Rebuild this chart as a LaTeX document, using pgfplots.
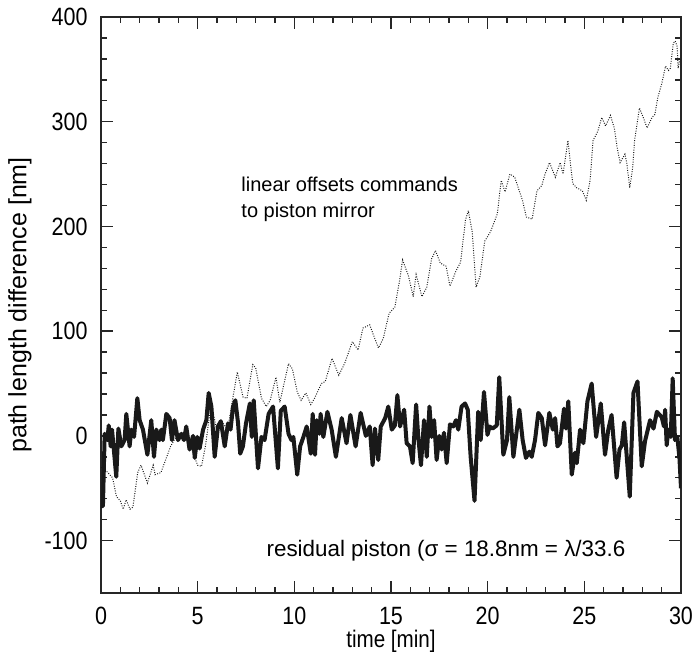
\documentclass[border=0pt]{standalone}
\usepackage{pgfplots}
\pgfplotsset{compat=1.18}
\usepackage{fontspec}
\setmainfont{Liberation Sans}
\newfontfamily\narrowfont{Liberation Sans}[FakeStretch=0.86]

% commanded offsets (dotted) and residual piston (thick)
\pgfplotstableread{
x y
0.0 -30
0.2 -32
0.4 -36
0.6 -40
0.8 -58
1.0 -62
1.15 -70
1.3 -61
1.5 -70
1.65 -68
1.9 -35
2.07 -28
2.4 -45
2.7 -28
2.8 -37
3.1 -35
3.6 -10
4.0 3
4.5 -4
5.0 -28
5.2 -29
5.4 -10
5.7 31
5.95 9
6.2 15
6.55 6
6.8 34
7.05 61
7.35 37
7.55 36
7.85 68
8.0 65
8.3 36
8.55 28
8.75 34
9.05 56
9.25 32
9.7 69
9.9 64
10.15 42
10.35 34
10.6 41
10.85 30
11.05 36
11.4 50
11.6 52
11.95 74
12.3 58
12.6 69
13.0 90
13.3 82
13.55 103
13.9 106
14.1 96
14.35 84
14.6 93
14.9 117
15.2 123
15.45 149
15.6 168
15.9 153
16.15 133
16.3 154
16.6 133
16.85 142
17.1 169
17.3 177
17.55 165
17.85 162
18.05 143
18.35 157
18.6 166
18.85 206
19.0 215
19.2 195
19.4 142
19.6 152
19.85 186
20.15 195
20.5 212
20.7 244
20.9 233
21.15 250
21.4 247
21.8 225
22.0 209
22.3 207
22.55 234
22.8 239
22.95 249
23.2 261
23.5 247
23.75 261
23.9 250
24.15 282
24.4 241
24.6 237
24.9 234
25.1 225
25.3 244
25.45 282
25.7 291
25.9 304
26.1 296
26.35 306
26.55 294
26.7 275
26.85 261
27.1 269
27.2 260
27.35 237
27.5 256
27.6 282
27.85 313
28.05 304
28.25 294
28.5 304
28.65 307
28.8 323
29.0 336
29.2 353
29.35 349
29.45 351
29.6 375
29.7 377
29.8 372
29.85 351
29.95 360
}\offsets

\pgfplotstableread{
x y
0.0 -67
0.1 -67
0.19 2
0.33 -4
0.4 10
0.5 -10
0.57 6
0.79 -39
0.9 7
1.05 -10
1.22 -4
1.31 21
1.48 -10
1.57 6
1.71 -1
1.88 36
2.0 15
2.17 6
2.4 -18
2.6 15
2.74 -20
2.86 6
3.03 -4
3.12 6
3.2 -4
3.38 21
3.55 17
3.67 -4
3.8 15
3.98 -4
4.16 2
4.29 -4
4.41 9
4.58 -13
4.76 0
4.85 -21
4.98 -1
5.1 -12
5.28 6
5.45 15
5.57 41
5.71 28
5.88 -20
6.05 9
6.2 14
6.4 -10
6.57 12
6.7 6
6.83 28
6.95 34
7.09 12
7.2 -17
7.34 -10
7.5 12
7.7 31
7.8 -1
7.9 34
8.12 -31
8.3 -1
8.46 -4
8.67 21
8.9 28
8.98 9
9.15 -31
9.3 24
9.5 28
9.7 2
9.85 -4
9.95 -1
10.15 -37
10.3 -10
10.47 -1
10.64 9
10.85 -17
10.95 21
11.07 -18
11.16 15
11.3 2
11.36 21
11.5 -1
11.71 23
11.93 6
12.15 -20
12.45 17
12.7 -7
12.9 20
13.17 -10
13.43 22
13.7 0
13.9 9
14.05 -28
14.17 7
14.34 -23
14.47 9
14.7 17
14.86 28
15.04 6
15.2 10
15.33 39
15.47 9
15.68 25
15.81 -7
15.98 -10
16.12 -26
16.3 30
16.41 -1
16.55 -28
16.71 15
16.85 -20
16.99 28
17.1 -1
17.23 15
17.36 -23
17.5 0
17.62 -13
17.74 3
17.88 -26
18.05 11
18.22 9
18.36 15
18.48 6
18.65 28
18.83 31
18.97 25
19.12 -20
19.32 -62
19.51 23
19.64 -4
19.81 42
19.99 1
20.1 9
20.25 7
20.47 10
20.6 56
20.81 -18
21.0 -4
21.12 37
21.33 -20
21.64 25
21.81 -4
21.98 -21
22.16 -15
22.28 -20
22.45 -4
22.62 22
22.8 17
22.97 -9
23.19 22
23.37 6
23.49 17
23.61 -10
23.74 -7
23.95 26
24.05 7
24.17 33
24.35 -37
24.52 -16
24.61 -26
24.78 6
24.95 -7
25.16 33
25.38 50
25.61 -1
25.85 31
26.07 -18
26.24 6
26.41 20
26.67 -40
26.82 -13
26.94 -9
27.06 13
27.35 -58
27.54 41
27.75 52
27.97 -29
28.14 -5
28.4 15
28.58 7
28.75 23
29.0 18
29.12 9
29.18 25
29.26 -9
29.35 6
29.47 -1
29.57 55
29.69 -4
29.81 -1
29.92 -21
30.0 -50
}\residual

\begin{document}
\begin{tikzpicture}
\path[use as bounding box] (-50.5pt,-32pt) rectangle (295.5pt,296.5pt);
\begin{axis}[
    scale only axis,
    width=290pt, height=288pt,
    at={(0,0)}, anchor=south west,
    xmin=0, xmax=30, ymin=-150, ymax=400,
    xtick={0,5,...,30},
    ytick={-100,0,...,400},
    minor x tick num=4,
    minor y tick num=4,
    tick align=inside,
    major tick length=6pt,
    minor tick length=3pt,
    axis line style={line width=1pt, black!85},
    every tick/.style={line width=0.7pt, black!85},
    tick label style={font=\narrowfont\fontsize{12.5}{14}\selectfont, inner sep=1pt},
    xticklabel style={yshift=-6pt},
    yticklabel style={xshift=-5.5pt},
    /pgf/number format/assume math mode=true,
    clip=true,
]
\addplot[black!90, line width=0.5pt, dash pattern=on 0.45pt off 0.75pt] table[x=x,y=y] {\offsets};
\addplot[black!90, line width=2pt, line join=round] table[x=x,y=y] {\residual};
\node[anchor=west, font=\fontsize{10}{13}\selectfont, align=left] at (axis cs:6.9,226) {linear offsets commands\\to piston mirror};
\node[anchor=west, font=\fontsize{11.2}{13}\selectfont] at (axis cs:8.2,-110) {residual piston (σ = 18.8nm = λ/33.6};
\end{axis}
\node[rotate=90, font=\fontsize{12.5}{14}\selectfont] at (-40.5pt,144pt) {path length difference [nm]};
\node[font=\narrowfont\fontsize{12}{14}\selectfont, inner sep=0.5pt] at (145pt,-24pt) {time [min]};
\end{tikzpicture}
\end{document}
